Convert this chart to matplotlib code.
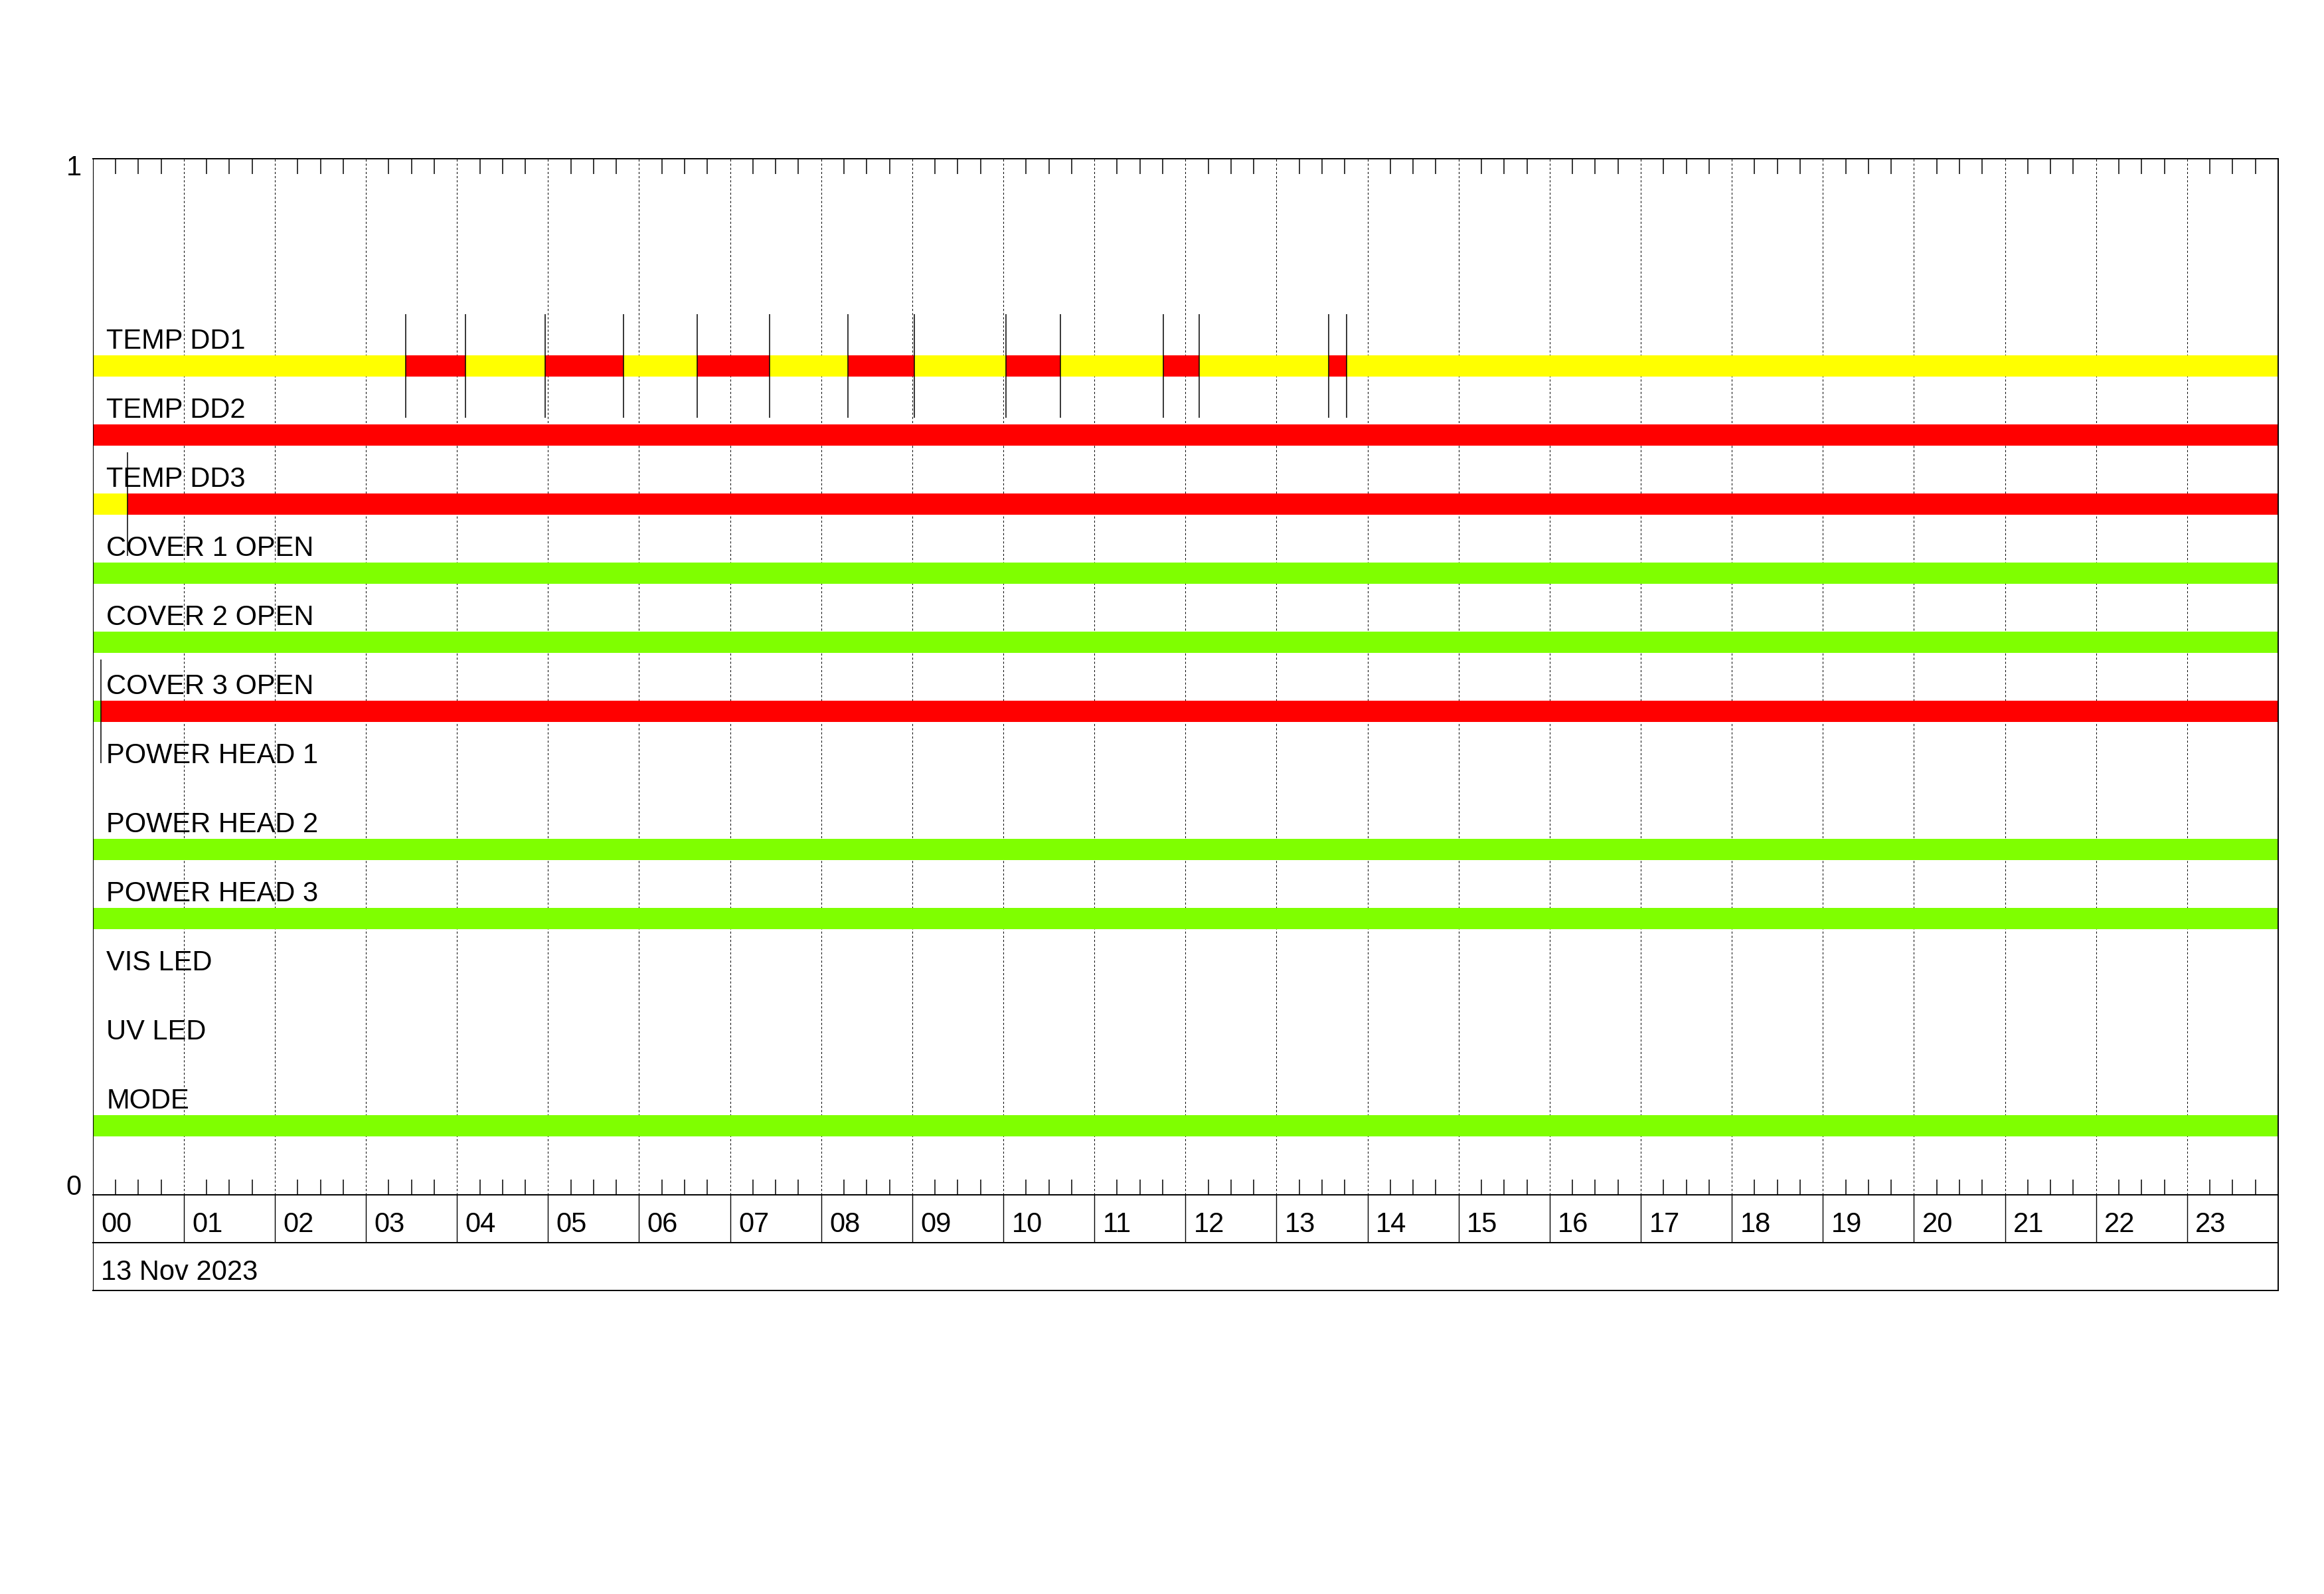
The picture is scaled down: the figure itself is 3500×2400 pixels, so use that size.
"""
Status timeline (IDL-style): one horizontal state bar per channel over 24 h.
"""
import matplotlib
matplotlib.use("Agg")
import matplotlib.pyplot as plt
import matplotlib.transforms as mtransforms

plt.rcParams.update({
    "font.family": ["Liberation Sans", "DejaVu Sans"],
    "figure.dpi": 100,
})

# ── data ─────────────────────────────────────────────────────────
ROW_LABELS = ["TEMP DD1", "TEMP DD2", "TEMP DD3",
              "COVER 1 OPEN", "COVER 2 OPEN", "COVER 3 OPEN",
              "POWER HEAD 1", "POWER HEAD 2", "POWER HEAD 3",
              "VIS LED", "UV LED", "MODE"]

# state change times (hours of day) and the state between them
dd1_edges = [0.0, 3.44, 4.09, 4.97, 5.83, 6.64, 7.43, 8.29, 9.02,
             10.03, 10.63, 11.76, 12.15, 13.57, 13.77, 24.0]
dd1_states = ["Y", "R", "Y", "R", "Y", "R", "Y", "R",
              "Y", "R", "Y", "R", "Y", "R", "Y"]
dd2_edges = [0.0, 24.0]
dd2_states = ["R"]
dd3_edges = [0.0, 0.38, 24.0]
dd3_states = ["Y", "R"]
cover1_edges = [0.0, 24.0]
cover1_states = ["G"]
cover2_edges = [0.0, 24.0]
cover2_states = ["G"]
cover3_edges = [0.0, 0.09, 24.0]
cover3_states = ["G", "R"]
ph1_edges, ph1_states = [], []
ph2_edges = [0.0, 24.0]
ph2_states = ["G"]
ph3_edges = [0.0, 24.0]
ph3_states = ["G"]
vis_edges, vis_states = [], []
uv_edges, uv_states = [], []
mode_edges = [0.0, 24.0]
mode_states = ["G"]

ROW_EDGES = [dd1_edges, dd2_edges, dd3_edges, cover1_edges, cover2_edges,
             cover3_edges, ph1_edges, ph2_edges, ph3_edges, vis_edges,
             uv_edges, mode_edges]
ROW_STATES = [dd1_states, dd2_states, dd3_states, cover1_states,
              cover2_states, cover3_states, ph1_states, ph2_states,
              ph3_states, vis_states, uv_states, mode_states]

HOUR_LABELS = [f"{h:02d}" for h in range(24)]
DATE_LABEL = "13 Nov 2023"

STATE_COLORS = {"Y": "#FFFF00", "R": "#FF0000", "G": "#7FFF00"}

# ── layout ───────────────────────────────────────────────────────
FS = 30
BAR_H = 0.021
MARK_H = 0.05
L, W = 0.0399, 0.9404

fig = plt.figure(figsize=(35, 24))
ax = fig.add_axes([L, 0.2504, W, 0.65])
ax_hr = fig.add_axes([L, 0.2204, W, 0.03])
ax_dt = fig.add_axes([L, 0.1904, W, 0.03])

ax.set_xlim(0, 24)
ax.set_ylim(0, 1)

n = len(ROW_LABELS)
for i, (lab, edges, states) in enumerate(zip(ROW_LABELS, ROW_EDGES, ROW_STATES)):
    yc = (n - i) / 15.0
    if edges:
        segs = [(edges[k], edges[k + 1] - edges[k]) for k in range(len(states))]
        ax.broken_barh(segs, (yc - BAR_H / 2, BAR_H),
                       facecolors=[STATE_COLORS[s] for s in states],
                       edgecolor="none", zorder=2)
        ax.vlines(edges, yc - MARK_H, yc + MARK_H, colors="black",
                  lw=1.1, zorder=3)
    ax.text(0.15, yc + BAR_H / 2 + 0.0065, lab, fontsize=FS,
            va="baseline", ha="left", zorder=4)

# hour grid + quarter-hour ticks
ax.set_xticks(range(24))
ax.set_xticks([h + q / 4 for h in range(24) for q in (1, 2, 3)], minor=True)
ax.tick_params(axis="x", which="major", length=0, labelbottom=False)
ax.tick_params(axis="x", which="minor", direction="in", top=True,
               bottom=True, length=16.5, width=1.1)
ax.grid(axis="x", which="major", linestyle=(0, (3, 3)), lw=0.75,
        color="black", zorder=1)
ax.set_yticks([0, 1])
ax.set_yticklabels(["0", "1"], fontsize=FS)
ax.tick_params(axis="y", length=0, pad=12)
ylabs = ax.get_yticklabels()
ylabs[0].set_va("baseline")
ylabs[1].set_va("top")
ylabs[1].set_transform(ylabs[1].get_transform() +
                       mtransforms.ScaledTranslation(0, 4 / 72, fig.dpi_scale_trans))
for sp in ax.spines.values():
    sp.set_linewidth(1.4)
ax.spines["left"].set_linewidth(0.8)

# hour label row
ax_hr.set_xlim(0, 24)
ax_hr.set_ylim(0, 1)
ax_hr.vlines(range(25), 0, 1, colors="black", lw=1.0)
for h, t in enumerate(HOUR_LABELS):
    ax_hr.text(h + 0.09, 0.22, t, fontsize=FS, va="baseline", ha="left")
ax_hr.set_xticks([])
ax_hr.set_yticks([])

# date row
ax_dt.set_xlim(0, 24)
ax_dt.set_ylim(0, 1)
ax_dt.text(0.09, 0.22, DATE_LABEL, fontsize=FS, va="baseline", ha="left")
ax_dt.set_xticks([])
ax_dt.set_yticks([])

for a in (ax_hr, ax_dt):
    for sp in a.spines.values():
        sp.set_linewidth(1.4)
    a.spines["left"].set_linewidth(0.8)

fig.savefig("out.png", dpi=100, facecolor="white")
plt.close(fig)
